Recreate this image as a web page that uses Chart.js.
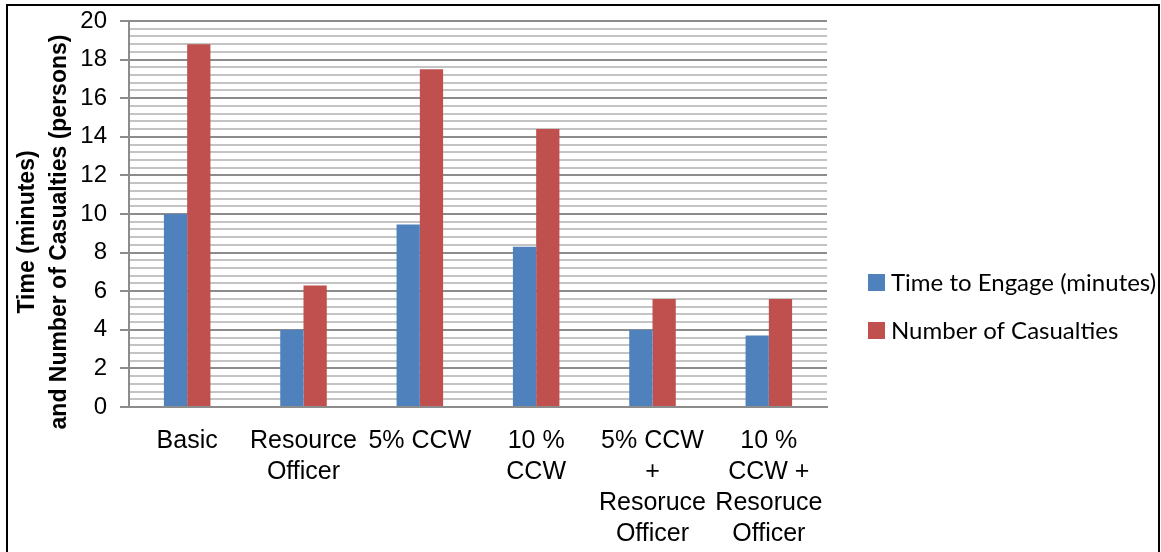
<!DOCTYPE html>
<html>
<head>
<meta charset="utf-8">
<script src="https://cdn.jsdelivr.net/npm/chart.js@4.4.1/dist/chart.umd.min.js"></script>
<style>
  html, body { margin: 0; padding: 0; background: #fff; }
  #wrap { position: relative; width: 1161px; height: 552px; overflow: hidden; background: #fff; }
  #frame { position: absolute; left: 6px; top: 4px; width: 1150px; height: 600px;
           border-left: 2px solid #000; border-top: 2px solid #000; border-right: 2px solid #000; }
  canvas { position: absolute; left: 0; top: 0; }
</style>
</head>
<body>
<div id="wrap">
  <canvas id="c" width="1161" height="552"></canvas>
  <div id="frame"></div>
</div>
<script>
const categories = [
  ["Basic"],
  ["Resource", "Officer"],
  ["5% CCW"],
  ["10 %", "CCW"],
  ["5% CCW", "+", "Resoruce", "Officer"],
  ["10 %", "CCW +", "Resoruce", "Officer"]
];
const timeToEngage = [10.0, 4.0, 9.45, 8.3, 4.0, 3.7];
const casualties = [18.8, 6.3, 17.5, 14.4, 5.6, 5.6];
const seriesNames = ["Time to Engage (minutes)", "Number of Casualties"];
const yTitleLines = ["Time (minutes)", "and Number of Casualties (persons)"];
const yMin = 0, yMax = 20, yMinorStep = 0.4, yMajorStep = 2;

const isMajor = v => Math.abs(v / yMajorStep - Math.round(v / yMajorStep)) < 1e-6;

const overlay = {
  id: 'overlay',
  afterDraw(chart) {
    const ctx = chart.ctx;
    // Y axis title (two rotated lines)
    ctx.save();
    ctx.fillStyle = '#000';
    ctx.font = 'bold 23px "Liberation Sans", Arial, sans-serif';
    ctx.textAlign = 'center';
    ctx.textBaseline = 'alphabetic';
    const baseX = [34, 66];
    yTitleLines.forEach((t, i) => {
      ctx.save();
      ctx.translate(baseX[i], 232);
      ctx.rotate(-Math.PI / 2);
      ctx.fillText(t, 0, 0);
      ctx.restore();
    });
    ctx.restore();
    // Legend
    ctx.save();
    ctx.font = '24px Lato, "Open Sans", sans-serif';
    ctx.textAlign = 'left';
    ctx.textBaseline = 'alphabetic';
    const rows = [291, 339];
    chart.data.datasets.forEach((ds, i) => {
      ctx.fillStyle = ds.backgroundColor;
      ctx.fillRect(868, rows[i] - 17, 17, 17);
      ctx.fillStyle = '#000';
      ctx.fillText(ds.label, 891, rows[i]);
    });
    ctx.restore();
  }
};

new Chart(document.getElementById('c'), {
  type: 'bar',
  data: {
    labels: categories,
    datasets: [
      { label: seriesNames[0], data: timeToEngage, backgroundColor: '#4f81bd' },
      { label: seriesNames[1], data: casualties, backgroundColor: '#c0504d' }
    ]
  },
  options: {
    responsive: false,
    animation: false,
    devicePixelRatio: 1,
    layout: { padding: { left: 0, right: 334, top: 21, bottom: 0 } },
    plugins: { legend: { display: false }, tooltip: { enabled: false } },
    datasets: { bar: { categoryPercentage: 0.4, barPercentage: 1.0 } },
    scales: {
      x: {
        grid: { display: false, drawTicks: false },
        border: { display: true, color: '#8c8c8c', width: 2 },
        ticks: {
          color: '#000',
          font: { family: '"Liberation Sans", Arial, sans-serif', size: 25, lineHeight: 1.23 },
          maxRotation: 0, minRotation: 0, autoSkip: false, padding: 19
        },
        afterFit(scale) { scale.height = 145; }
      },
      y: {
        min: yMin, max: yMax,
        grid: {
          color: ctx => (ctx.tick && isMajor(ctx.tick.value)) ? '#8c8c8c' : '#c4c4c4',
          tickColor: ctx => (ctx.tick && isMajor(ctx.tick.value)) ? '#8c8c8c' : 'rgba(0,0,0,0)',
          lineWidth: 2,
          tickLength: 9,
          drawTicks: true
        },
        border: { display: true, color: '#8c8c8c', width: 2 },
        ticks: {
          stepSize: yMinorStep,
          autoSkip: false,
          color: '#000',
          padding: 13,
          font: { family: '"Liberation Sans", Arial, sans-serif', size: 24 },
          callback: v => isMajor(v) ? String(Math.round(v)) : ''
        },
        afterFit(scale) { scale.width = 129; scale.paddingTop = 0; scale.paddingBottom = 0; }
      }
    }
  },
  plugins: [overlay]
});
</script>
</body>
</html>
